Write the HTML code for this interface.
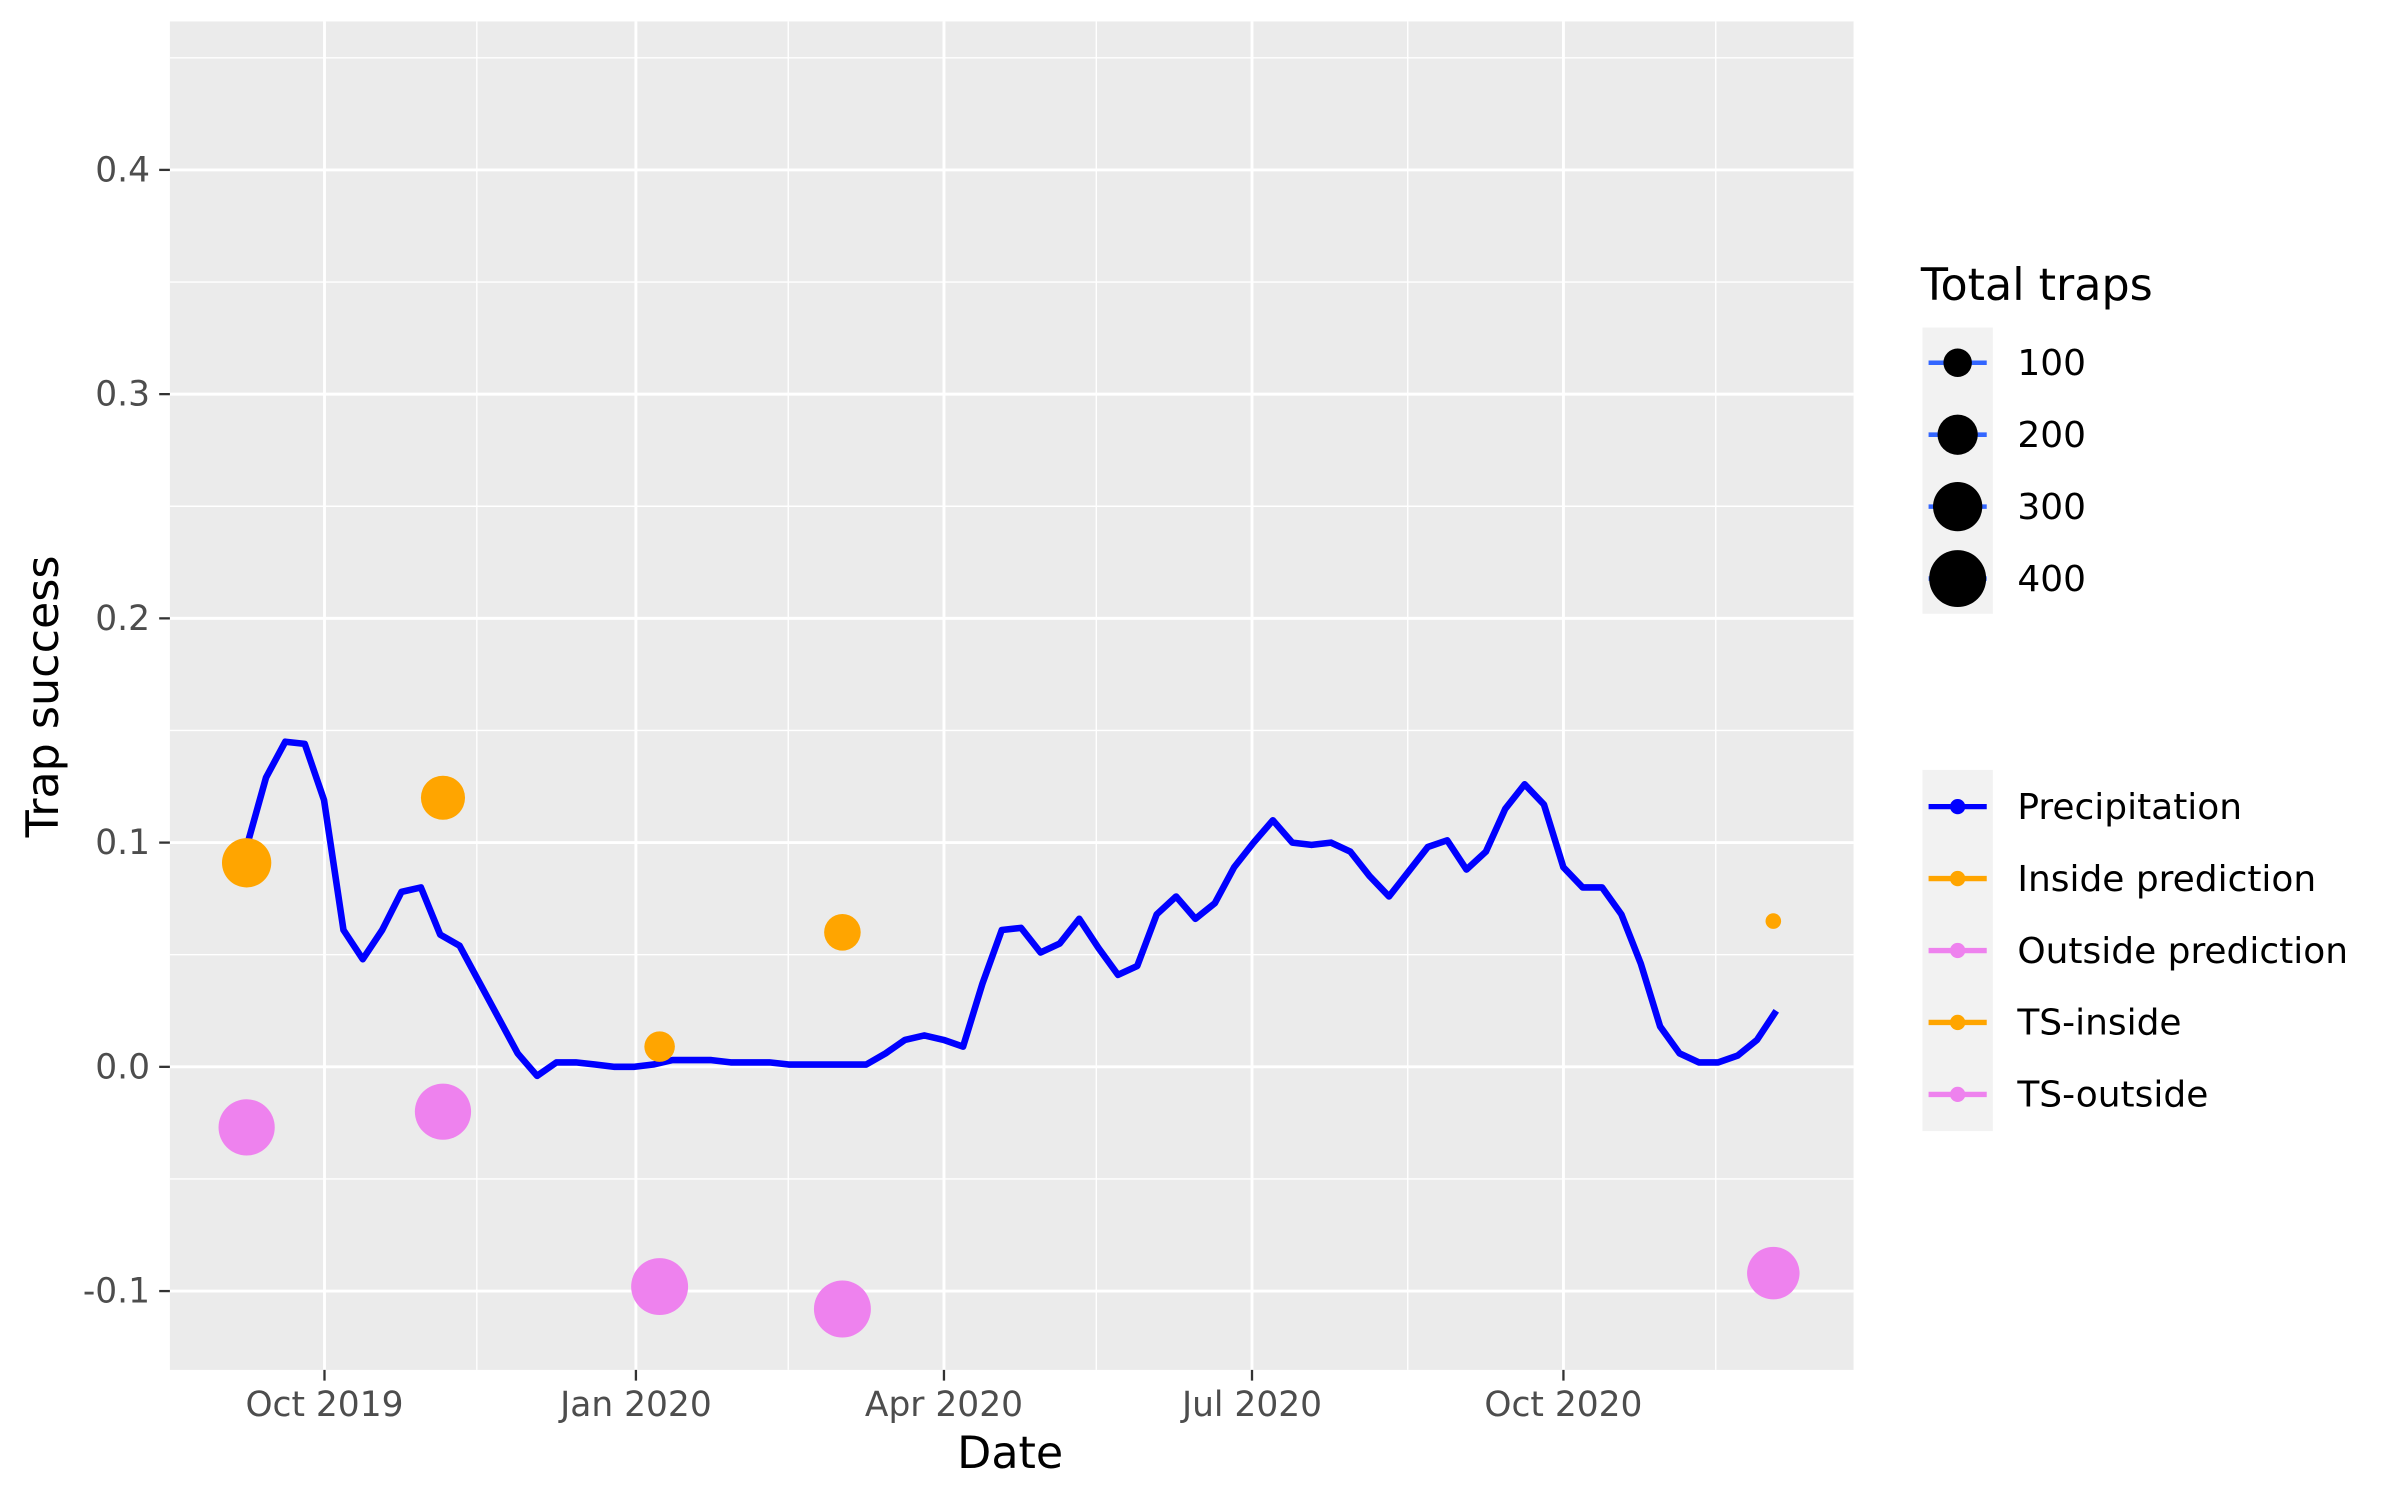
<!DOCTYPE html>
<html><head><meta charset="utf-8"><style>
html,body{margin:0;padding:0;background:#fff;}
svg{display:block;font-family:"DejaVu Sans","Liberation Sans",sans-serif;}
</style></head><body>
<svg id="chart" width="2400" height="1500" viewBox="0 0 1568 980" xmlns="http://www.w3.org/2000/svg">
<rect x="111" y="14" width="1100" height="881" fill="#ebebeb"/>
<g id="grid"></g>
<g id="axes"></g>
<g id="marks"></g>
<text transform="translate(38,455) rotate(-90)" text-anchor="middle" font-size="29" fill="#000">Trap success</text>
<text x="660" y="959" text-anchor="middle" font-size="29" fill="#000">Date</text>
<g id="legend"></g>
</svg>
<script>
// ---- data ----
const precipStart = "2019-09-08";
const precipStepDays = 5.72;
const precipValues = [0.098,0.129,0.145,0.144,0.119,0.061,0.048,0.061,0.078,0.080,0.059,0.054,0.038,0.022,0.006,-0.004,0.002,0.002,0.001,0.000,0.000,0.001,0.003,0.003,0.003,0.002,0.002,0.002,0.001,0.001,0.001,0.001,0.001,0.006,0.012,0.014,0.012,0.009,0.037,0.061,0.062,0.051,0.055,0.066,0.053,0.041,0.045,0.068,0.076,0.066,0.073,0.089,0.100,0.110,0.100,0.099,0.100,0.096,0.085,0.076,0.087,0.098,0.101,0.088,0.096,0.115,0.126,0.117,0.089,0.080,0.080,0.068,0.046,0.018,0.006,0.002,0.002,0.005,0.012,0.025];
const sampleDates = ["2019-09-08","2019-11-05","2020-01-08","2020-03-02","2020-12-02"];
const insideValues = [0.091,0.120,0.009,0.060,0.065];
const insideTraps = [300,240,115,165,30];
const outsideValues = [-0.027,-0.020,-0.098,-0.108,-0.092];
const outsideTraps = [390,390,400,400,340];
const yTicks = [-0.1,0.0,0.1,0.2,0.3,0.4];
const yTickLabels = ["-0.1","0.0","0.1","0.2","0.3","0.4"];
const yMinor = [-0.05,0.05,0.15,0.25,0.35,0.45];
const xTicks = ["2019-10-01","2020-01-01","2020-04-01","2020-07-01","2020-10-01"];
const xTickLabels = ["Oct 2019","Jan 2020","Apr 2020","Jul 2020","Oct 2020"];
const xMinor = ["2019-11-15","2020-02-15","2020-05-16","2020-08-16","2020-11-15"];
const sizeLegend = [100,200,300,400];
const seriesNames = ["Precipitation","Inside prediction","Outside prediction","TS-inside","TS-outside"];
const seriesColors = ["#0000ff","#ffa500","#ee82ee","#ffa500","#ee82ee"];

// ---- scales ----
const NS="http://www.w3.org/2000/svg";
const T0=Date.UTC(2019,9,1);
function days(s){const p=s.split("-");return (Date.UTC(+p[0],+p[1]-1,+p[2])-T0)/86400000;}
function X(d){return 212+d*2.2116;}
function Y(v){return 697-v*1465;}
function R(n){return 0.93*Math.sqrt(n);}
function mk(tag,attrs,parent){const e=document.createElementNS(NS,tag);for(const k in attrs)e.setAttribute(k,attrs[k]);parent.appendChild(e);return e;}
const grid=document.getElementById('grid'),axes=document.getElementById('axes'),marks=document.getElementById('marks'),legend=document.getElementById('legend');

yMinor.forEach(v=>{const l=mk('line',{x1:111,x2:1211,y1:Y(v),y2:Y(v),stroke:'#fff','stroke-width':0.9},grid);

});
xMinor.forEach(s=>{const x=X(days(s));const l=mk('line',{x1:x,x2:x,y1:14,y2:895,stroke:'#fff','stroke-width':0.9},grid);

});
yTicks.forEach((v,i)=>{const y=Y(v);
const l=mk('line',{x1:111,x2:1211,y1:y,y2:y,stroke:'#fff','stroke-width':1.9},grid);


const t=mk('line',{x1:104,x2:111,y1:y,y2:y,stroke:'#333','stroke-width':1.5},axes);


const tx=mk('text',{x:98,y:y+7.5,'text-anchor':'end','font-size':22.5,fill:'#4d4d4d'},axes);tx.textContent=yTickLabels[i];

});
xTicks.forEach((s,i)=>{const x=X(days(s));
const l=mk('line',{x1:x,x2:x,y1:14,y2:895,stroke:'#fff','stroke-width':1.9},grid);


const t=mk('line',{x1:x,x2:x,y1:895,y2:902,stroke:'#333','stroke-width':1.5},axes);


const tx=mk('text',{x:x,y:925,'text-anchor':'middle','font-size':22.5,fill:'#4d4d4d'},axes);tx.textContent=xTickLabels[i];

});

// precipitation line
const d0=days(precipStart);
const pts=precipValues.map((v,i)=>X(d0+i*precipStepDays).toFixed(1)+","+Y(v).toFixed(1)).join(" ");
const pl=mk('polyline',{points:pts,fill:'none',stroke:'#0000ff','stroke-width':4.3,'stroke-linejoin':'round'},marks);


// points
sampleDates.forEach((s,i)=>{const x=X(days(s));
const c=mk('circle',{cx:x,cy:Y(insideValues[i]),r:R(insideTraps[i]),fill:'#ffa500'},marks);


const c2=mk('circle',{cx:x,cy:Y(outsideValues[i]),r:R(outsideTraps[i]),fill:'#ee82ee'},marks);

});

// size legend
const lt=mk('text',{x:1255,y:196,'font-size':29,fill:'#000'},legend);lt.textContent="Total traps";


const bg1=mk('rect',{x:1256,y:214,width:46,height:187,fill:'#f2f2f2'},legend);


sizeLegend.forEach((n,i)=>{const y=237+i*47;
const l=mk('line',{x1:1260,x2:1298,y1:y,y2:y,stroke:'#3366ff','stroke-width':3},legend);


const c=mk('circle',{cx:1279,cy:y,r:R(n),fill:'#000'},legend);


const t=mk('text',{x:1318,y:y+8,'font-size':23.5,fill:'#000'},legend);t.textContent=String(n);

});
// color legend
const bg2=mk('rect',{x:1256,y:503,width:46,height:236,fill:'#f2f2f2'},legend);


seriesNames.forEach((nm,i)=>{const y=527+i*47;
const l=mk('line',{x1:1260,x2:1298,y1:y,y2:y,stroke:seriesColors[i],'stroke-width':3.5},legend);


const c=mk('circle',{cx:1279,cy:y,r:5,fill:seriesColors[i]},legend);


const t=mk('text',{x:1318,y:y+8,'font-size':23.5,fill:'#000'},legend);t.textContent=nm;

});
</script>
</body></html>
